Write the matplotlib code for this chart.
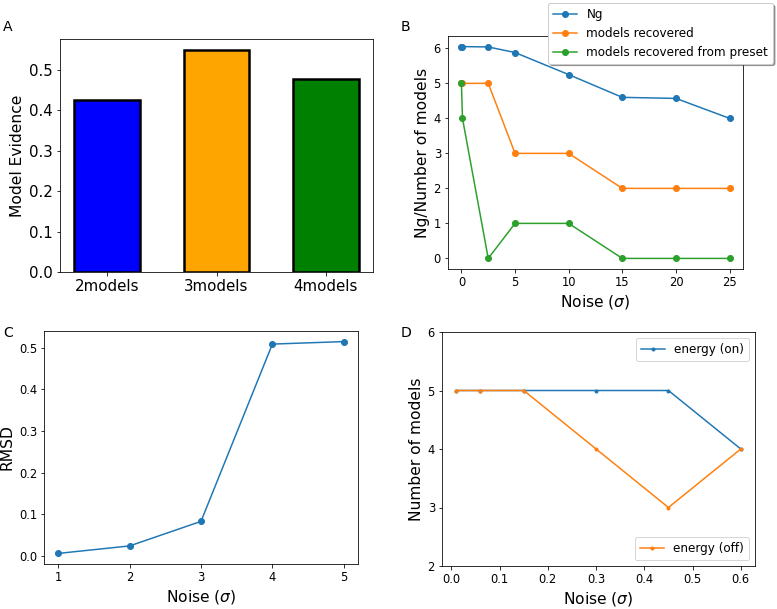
import matplotlib
matplotlib.use("Agg")
import matplotlib.pyplot as plt

# Panel A data
model_names = ["2models", "3models", "4models"]
model_evidence = [0.425, 0.548, 0.477]
bar_colors = ["blue", "orange", "green"]

# Panel B data
noise_b = [0, 0.1, 2.5, 5, 10, 15, 20, 25]
ng_values = [6.05, 6.05, 6.04, 5.88, 5.25, 4.60, 4.57, 4.00]
models_recovered = [5, 5, 5, 3, 3, 2, 2, 2]
models_recovered_preset = [5, 4, 0, 1, 1, 0, 0, 0]

# Panel C data
noise_c = [1, 2, 3, 4, 5]
rmsd = [0.006, 0.024, 0.083, 0.509, 0.515]

# Panel D data
noise_d = [0.01, 0.06, 0.15, 0.3, 0.45, 0.6]
energy_on = [5, 5, 5, 5, 5, 4]
energy_off = [5, 5, 5, 4, 3, 4]

DPI = 72
W, H = 777, 609
fig = plt.figure(figsize=(W / DPI, H / DPI), dpi=DPI)

LAB = 15.5
TICK = 11.5
LEG = 12
LET = 14

def ax_at(l, t, r, b):
    return fig.add_axes([l / W, 1 - b / H, (r - l) / W, (b - t) / H])

# A
axA = ax_at(60, 39, 373, 272)
axA.bar(model_names, model_evidence, width=0.6, color=bar_colors,
        edgecolor="black", linewidth=2.5)
axA.set_ylabel("Model Evidence", fontsize=LAB)
axA.tick_params(labelsize=15)
fig.text(3 / W, 1 - 27 / H, "A", fontsize=LET, va="center")

# B
axB = ax_at(448, 36, 743, 269)
axB.plot(noise_b, ng_values, marker="o", label="Ng")
axB.plot(noise_b, models_recovered, marker="o", label="models recovered")
axB.plot(noise_b, models_recovered_preset, marker="o",
         label="models recovered from preset")
axB.set_xlabel(r"Noise ($\sigma$)", fontsize=LAB)
axB.set_ylabel("Ng/Number of models", fontsize=LAB)
axB.set_xticks([0, 5, 10, 15, 20, 25])
axB.tick_params(labelsize=TICK)
axB.legend(loc="upper right", bbox_to_anchor=(773 / W, 1 - 3 / H),
           bbox_transform=fig.transFigure, fontsize=LEG, shadow=True,
           framealpha=1, borderaxespad=0)
fig.text(401 / W, 1 - 27 / H, "B", fontsize=LET, va="center")

# C
axC = ax_at(44, 331, 358, 564)
axC.plot(noise_c, rmsd, marker="o")
axC.set_xlabel(r"Noise ($\sigma$)", fontsize=LAB)
axC.set_ylabel("RMSD", fontsize=LAB)
axC.set_xticks(noise_c)
axC.tick_params(labelsize=TICK)
fig.text(3 / W, 1 - 333 / H, "C", fontsize=LET, va="center")

# D
axD = ax_at(442, 332, 755, 566)
l_on, = axD.plot(noise_d, energy_on, marker=".", label="energy (on)")
l_off, = axD.plot(noise_d, energy_off, marker=".", label="energy (off)")
axD.set_ylim(2, 6)
axD.set_yticks([2, 3, 4, 5, 6])
axD.set_xlabel(r"Noise ($\sigma$)", fontsize=LAB)
axD.set_ylabel("Number of models", fontsize=LAB)
axD.tick_params(labelsize=TICK)
leg1 = axD.legend(handles=[l_on], loc="upper right", fontsize=LEG)
axD.add_artist(leg1)
axD.legend(handles=[l_off], loc="lower right", fontsize=LEG)
fig.text(401 / W, 1 - 333 / H, "D", fontsize=LET, va="center")

fig.savefig("out.png", dpi=DPI)
